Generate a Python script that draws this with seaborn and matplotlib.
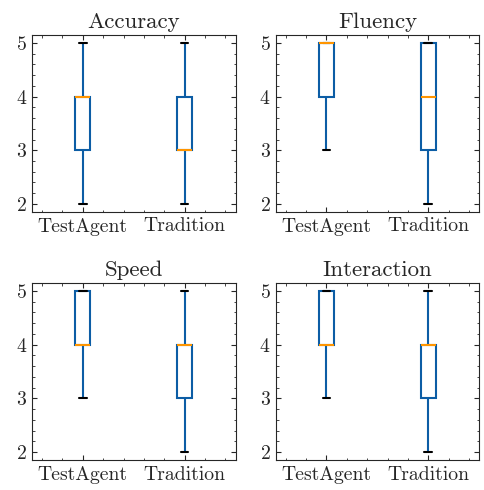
import matplotlib
matplotlib.use("Agg")
import matplotlib.pyplot as plt
from matplotlib.ticker import AutoMinorLocator, MultipleLocator
import seaborn as sns
import pandas as pd

# scores per metric (raw ratings, 1-5 scale)
methods = ["TestAgent", "Tradition"]
metrics = ["Accuracy", "Fluency", "Speed", "Interaction"]

accuracy_testagent = [2, 3, 3, 4, 4, 4, 4, 5]
accuracy_tradition = [2, 3, 3, 3, 3, 4, 4, 5]
fluency_testagent = [3, 4, 4, 5, 5, 5, 5, 5]
fluency_tradition = [2, 3, 3, 4, 4, 5, 5, 5]
speed_testagent = [3, 4, 4, 4, 4, 5, 5, 5]
speed_tradition = [2, 3, 3, 4, 4, 4, 4, 5]
interaction_testagent = [3, 4, 4, 4, 4, 5, 5, 5]
interaction_tradition = [2, 3, 3, 4, 4, 4, 4, 5]

scores = {
    "Accuracy": (accuracy_testagent, accuracy_tradition),
    "Fluency": (fluency_testagent, fluency_tradition),
    "Speed": (speed_testagent, speed_tradition),
    "Interaction": (interaction_testagent, interaction_tradition),
}

sns.set_style("ticks")
plt.rcParams["font.family"] = ["cmr10", "DejaVu Serif"]
plt.rcParams["axes.formatter.use_mathtext"] = True
plt.rcParams["font.size"] = 14
plt.rcParams["xtick.direction"] = "in"
plt.rcParams["ytick.direction"] = "in"
plt.rcParams["xtick.top"] = True
plt.rcParams["ytick.right"] = True
plt.rcParams["xtick.major.size"] = 3.5
plt.rcParams["ytick.major.size"] = 3.5
plt.rcParams["xtick.minor.size"] = 1.8
plt.rcParams["ytick.minor.size"] = 1.8
plt.rcParams["xtick.minor.visible"] = True
plt.rcParams["ytick.minor.visible"] = True
plt.rcParams["axes.linewidth"] = 0.8

blue = "#0C5DA5"
orange = "#FF9500"

fig, axes = plt.subplots(2, 2, figsize=(4.84, 4.90), dpi=100)
for ax, metric in zip(axes.flat, metrics):
    a, b = scores[metric]
    df = pd.DataFrame({
        "method": [methods[0]] * len(a) + [methods[1]] * len(b),
        "score": a + b,
    })
    sns.boxplot(data=df, x="method", y="score", ax=ax, width=0.15,
                linewidth=1.5, fliersize=0,
                boxprops=dict(facecolor="white", edgecolor=blue),
                whiskerprops=dict(color=blue),
                capprops=dict(color="black"),
                medianprops=dict(color=orange))
    ax.set_title(metric, fontsize=16.5, pad=5)
    ax.set_xlabel("")
    ax.set_ylabel("")
    ax.set_xlim(-0.5, 1.5)
    ax.yaxis.set_major_locator(MultipleLocator(1))
    ax.yaxis.set_minor_locator(AutoMinorLocator(5))
    ax.xaxis.set_minor_locator(AutoMinorLocator(5))
    ax.tick_params(which="both", top=True, right=True, direction="in")
    ax.tick_params(axis="x", which="major", labelsize=14.2, pad=4)
    ax.tick_params(axis="y", which="major", labelsize=14.2)

fig.subplots_adjust(left=0.066, right=0.99, top=0.929, bottom=0.061,
                    wspace=0.197, hspace=0.40)
fig.savefig("out.png", dpi=100)
